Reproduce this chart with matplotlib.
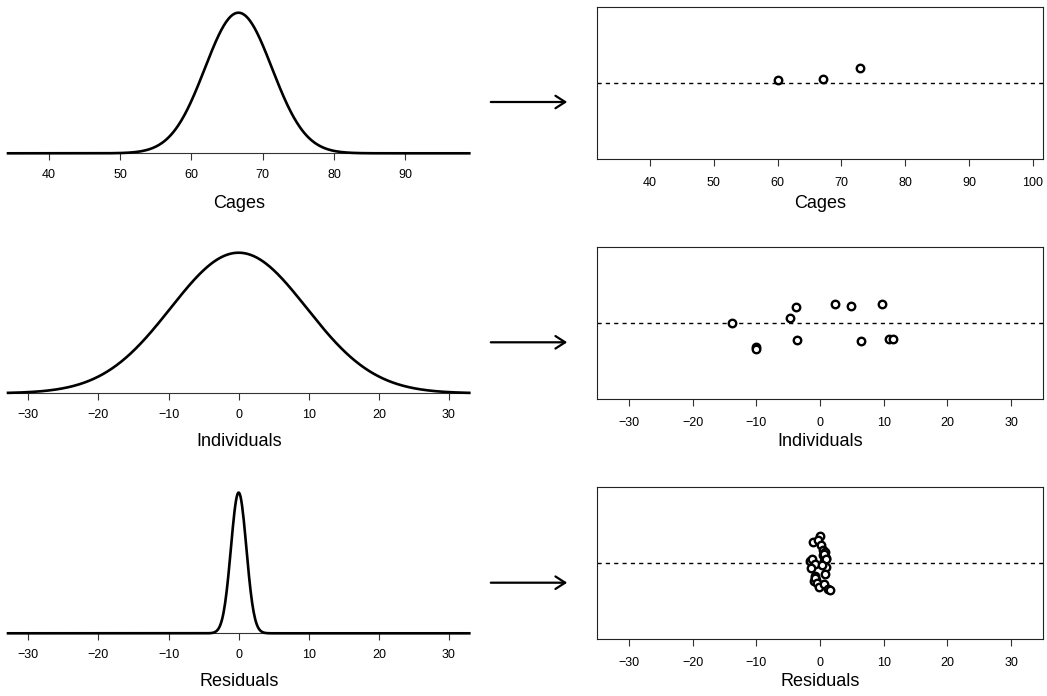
import numpy as np
import matplotlib
matplotlib.use("Agg")
import matplotlib.pyplot as plt
from matplotlib.patches import FancyArrowPatch

plt.rcParams["font.family"] = ["Liberation Sans", "DejaVu Sans"]

W, H = 1047, 696

# distribution parameters
panel_names = ["Cages", "Individuals", "Residuals"]
curve_means = [66.6, 0.0, 0.0]
curve_sds = [4.7, 9.7, 1.1]

# tick labels
left_ticks = [[40, 50, 60, 70, 80, 90],
              [-30, -20, -10, 0, 10, 20, 30],
              [-30, -20, -10, 0, 10, 20, 30]]
right_ticks = [[40, 50, 60, 70, 80, 90, 100],
               [-30, -20, -10, 0, 10, 20, 30],
               [-30, -20, -10, 0, 10, 20, 30]]

# estimated effects (x) with vertical jitter (y)
cage_x = [60.0, 67.1, 72.9]
cage_y = [0.035, 0.052, 0.20]

indiv_x = [-13.85, -10.1, -10.0, -4.75, -3.8, -3.65, 2.4, 4.8, 6.5, 9.8, 10.9, 11.45]
indiv_y = [0.0, -0.32, -0.34, 0.07, 0.214, -0.227, 0.249, 0.218, -0.24, 0.249, -0.21, -0.214]

resid_x = [0.0, -1.1, -0.3, 0.2, 0.47, 0.85, 0.47, 1.0, 0.58, 0.6, 0.9,
           -1.6, -1.3, -0.83, 1.0, -1.35, 0.3,
           0.74, -0.83, -0.67, -0.98, -0.8, -0.47, -0.16, 0.63, 1.25, 1.63]
resid_y = [0.36, 0.275, 0.30, 0.23, 0.17, 0.145, 0.10, 0.07, 0.026, 0.12, 0.05,
           0.026, 0.05, -0.01, -0.05, -0.06, -0.03,
           -0.15, -0.175, -0.22, -0.235, -0.2, -0.26, -0.31, -0.28, -0.34, -0.36]

points_x = [cage_x, indiv_x, resid_x]
points_y = [cage_y, indiv_y, resid_y]

left_xlims = [(34.25, 99.0), (-32.9, 32.9), (-32.9, 32.9)]
right_xlims = [(31.7, 101.6), (-35.0, 35.0), (-35.0, 35.0)]


def rect(x0, y0, x1, y1):
    return [x0 / W, 1 - y1 / H, (x1 - x0) / W, (y1 - y0) / H]


fig = plt.figure(figsize=(W / 100, H / 100), dpi=100)

left_rows = [(12.7, 153.3), (252.7, 393.3), (492.7, 633.3)]
right_rows = [(6.7, 159.3), (246.7, 399.3), (486.7, 639.3)]
label_y = [203, 442, 682]
arrow_y = [102, 342.3, 582.7]

for i in range(3):
    # density curve
    ax = fig.add_axes(rect(8, left_rows[i][0], 469.3, left_rows[i][1]))
    x = np.linspace(left_xlims[i][0], left_xlims[i][1], 600)
    m, s = curve_means[i], curve_sds[i]
    dens = np.exp(-0.5 * ((x - m) / s) ** 2) / (s * np.sqrt(2 * np.pi))
    ax.plot(x, dens, color="black", lw=1.9, clip_on=False, zorder=3)
    ax.set_xlim(left_xlims[i])
    ax.set_ylim(0, dens.max())
    for side in ["left", "right", "top"]:
        ax.spines[side].set_visible(False)
    ax.spines["bottom"].set_linewidth(0.8)
    ax.spines["bottom"].set_color("#333333")
    ax.set_yticks([])
    ax.set_xticks(left_ticks[i])
    ax.tick_params(axis="x", length=5, width=0.8, pad=6, labelsize=9, color="#333333")
    ax.patch.set_alpha(0)
    fig.text(238.7 / W, 1 - label_y[i] / H, panel_names[i], ha="center", va="center", fontsize=13)

    # estimated points
    ax2 = fig.add_axes(rect(597, right_rows[i][0], 1043, right_rows[i][1]))
    ax2.axhline(0, color="black", lw=1.0, linestyle=(0, (3, 3)))
    ax2.plot(points_x[i], points_y[i], "o", mfc="white", mec="black", ms=5.4, mew=1.7)
    ax2.set_xlim(right_xlims[i])
    ax2.set_ylim(-1, 1)
    ax2.set_yticks([])
    ax2.set_xticks(right_ticks[i])
    ax2.tick_params(axis="x", length=5, width=0.8, pad=7.5, labelsize=9, color="#333333")
    for sp in ax2.spines.values():
        sp.set_linewidth(0.8)
        sp.set_color("#222222")
    fig.text(820 / W, 1 - label_y[i] / H, panel_names[i], ha="center", va="center", fontsize=13)

    # arrow between the two panels
    arr = FancyArrowPatch((488 / W, 1 - arrow_y[i] / H), (570 / W, 1 - arrow_y[i] / H),
                          transform=fig.transFigure, arrowstyle="->,head_length=0.7,head_width=0.45",
                          mutation_scale=10, lw=1.6, color="black")
    fig.add_artist(arr)

fig.savefig("out.png", dpi=100)
